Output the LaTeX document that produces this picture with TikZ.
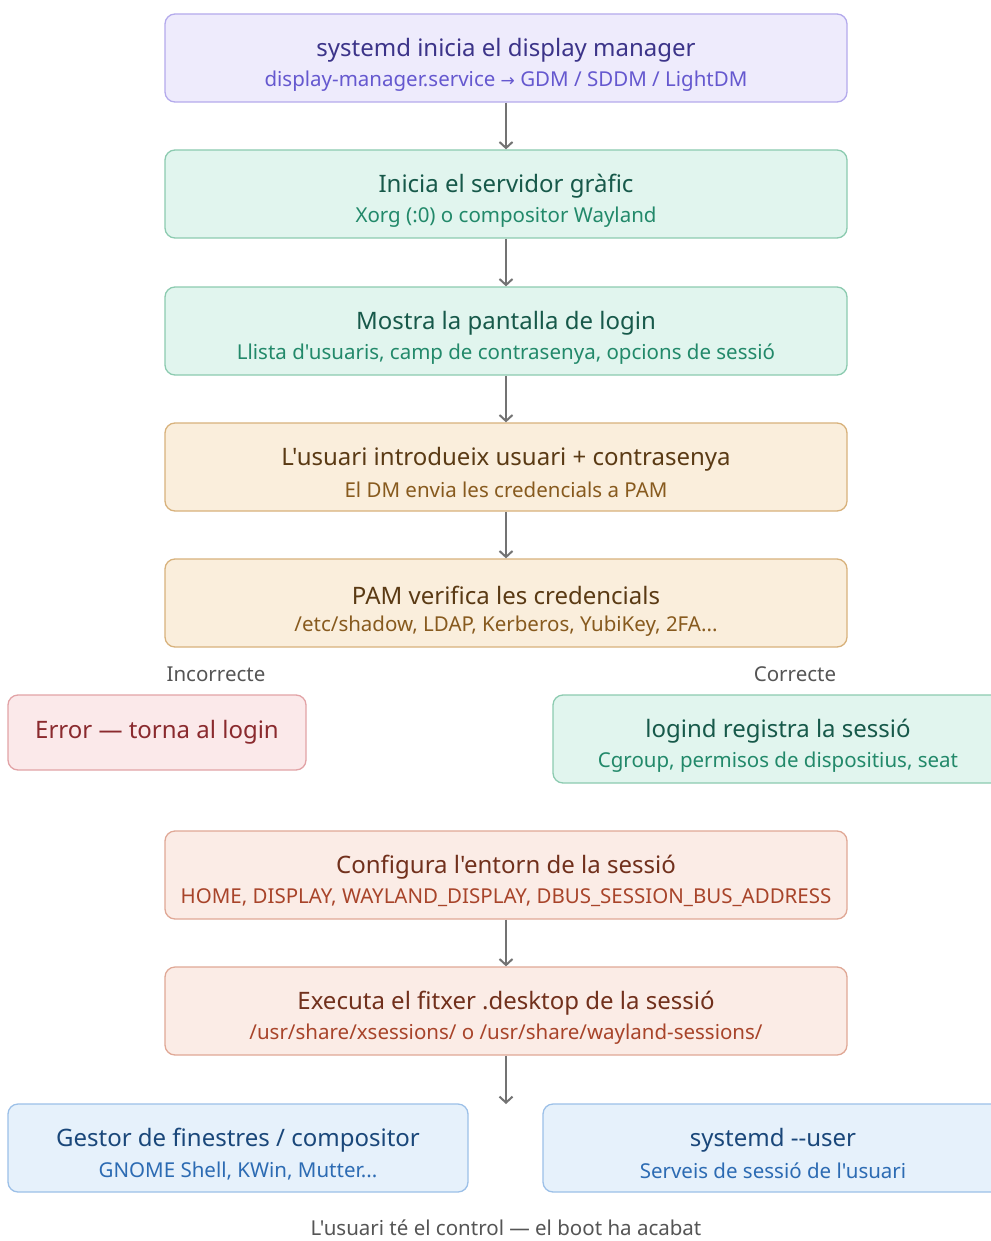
\documentclass[tikz,border=0pt]{standalone}
\usepackage{fontspec}
\setmainfont{Noto Sans}[Ligatures=TeXOff]
\newfontfamily\symfont{DejaVu Sans}
\usetikzlibrary{arrows.meta}

% palette
\definecolor{violetFill}{HTML}{EEEBFC}\definecolor{violetLine}{HTML}{B4AAEC}
\definecolor{violetHead}{HTML}{3C3489}\definecolor{violetSub}{HTML}{6558CF}
\definecolor{greenFill}{HTML}{E1F5EE}\definecolor{greenLine}{HTML}{8CCBB0}
\definecolor{greenHead}{HTML}{17594A}\definecolor{greenSub}{HTML}{22896A}
\definecolor{amberFill}{HTML}{FAEEDC}\definecolor{amberLine}{HTML}{D8B27C}
\definecolor{amberHead}{HTML}{5A3A14}\definecolor{amberSub}{HTML}{875A1E}
\definecolor{roseFill}{HTML}{FBE9EA}\definecolor{roseLine}{HTML}{E2A3A6}
\definecolor{roseHead}{HTML}{8A2A2E}
\definecolor{coralFill}{HTML}{FBECE6}\definecolor{coralLine}{HTML}{E0A896}
\definecolor{coralHead}{HTML}{71301C}\definecolor{coralSub}{HTML}{A8442A}
\definecolor{blueFill}{HTML}{E6F1FB}\definecolor{blueLine}{HTML}{9CC0E8}
\definecolor{blueHead}{HTML}{1A477A}\definecolor{blueSub}{HTML}{2C6BB3}
\definecolor{arrowGray}{HTML}{737373}
\definecolor{noteGray}{HTML}{555555}

\tikzset{
  x=1pt, y=-1pt,
  stage/.style={draw, rounded corners=10pt, line width=1.3pt,
    minimum height=88pt, inner sep=0pt},
  wide/.style={stage, minimum width=682pt},
  violet/.style={fill=violetFill, draw=violetLine},
  green/.style={fill=greenFill, draw=greenLine},
  amber/.style={fill=amberFill, draw=amberLine},
  rose/.style={fill=roseFill, draw=roseLine},
  coral/.style={fill=coralFill, draw=coralLine},
  blue/.style={fill=blueFill, draw=blueLine},
  headtext/.style={font=\fontsize{24}{28}\selectfont, inner sep=0pt, anchor=center},
  subtext/.style={font=\fontsize{20.5}{24}\selectfont, inner sep=0pt, anchor=center},
  note/.style={font=\fontsize{20.5}{24}\selectfont, text=noteGray, inner sep=0pt},
  flow/.style={draw=arrowGray, line width=2pt,
    -{Straight Barb[length=6pt,width=13pt,line width=2pt]}},
}

\begin{document}
\begin{tikzpicture}
\useasboundingbox (0,0) rectangle (990,1241);
\fill[white] (0,0) rectangle (990,1241);

% main column
\node[wide, violet] (dm) at (506,58) {};
\node[headtext, text=violetHead] (dmT) at ([yshift=8pt]dm.center) {systemd inicia el display manager};
\node[subtext, text=violetSub] (dmS) at ([yshift=-23pt]dm.center) {display-manager.service {\symfont\fontsize{17}{20}\selectfont →} GDM / SDDM / LightDM};

\node[wide, green] (xs) at (506,194) {};
\node[headtext, text=greenHead] (xsT) at ([yshift=8pt]xs.center) {Inicia el servidor gràfic};
\node[subtext, text=greenSub] (xsS) at ([yshift=-23pt]xs.center) {Xorg (:0) o compositor Wayland};

\node[wide, green] (lg) at (506,331) {};
\node[headtext, text=greenHead] (lgT) at ([yshift=8pt]lg.center) {Mostra la pantalla de login};
\node[subtext, text=greenSub] (lgS) at ([yshift=-23pt]lg.center) {Llista d'usuaris, camp de contrasenya, opcions de sessió};

\node[wide, amber] (in) at (506,467) {};
\node[headtext, text=amberHead] (inT) at ([yshift=8pt]in.center) {L'usuari introdueix usuari + contrasenya};
\node[subtext, text=amberSub] (inS) at ([yshift=-23pt]in.center) {El DM envia les credencials a PAM};

\node[wide, amber] (pam) at (506,603) {};
\node[headtext, text=amberHead] (pamT) at ([yshift=8pt]pam.center) {PAM verifica les credencials};
\node[subtext, text=amberSub] (pamS) at ([yshift=-23pt]pam.center) {/etc/shadow, LDAP, Kerberos, YubiKey, 2FA...};

% branch labels
\node[note] (bad) at (216,674) {Incorrecte};
\node[note] (good) at (795,674) {Correcte};

% outcomes of the check
\node[stage, rose, minimum width=298pt, minimum height=75pt] (err) at (157,732.5) {};
\node[headtext, text=roseHead] (errT) at (err.center) {Error — torna al login};

\node[stage, green, minimum width=450pt] (ld) at (778,739) {};
\node[headtext, text=greenHead] (ldT) at ([yshift=8pt]ld.center) {logind registra la sessió};
\node[subtext, text=greenSub] (ldS) at ([yshift=-23pt]ld.center) {Cgroup, permisos de dispositius, seat};

\node[wide, coral] (env) at (506,875) {};
\node[headtext, text=coralHead] (envT) at ([yshift=8pt]env.center) {Configura l'entorn de la sessió};
\node[subtext, text=coralSub] (envS) at ([yshift=-23pt]env.center) {HOME, DISPLAY, WAYLAND\_DISPLAY, DBUS\_SESSION\_BUS\_ADDRESS};

\node[wide, coral] (desk) at (506,1011) {};
\node[headtext, text=coralHead] (deskT) at ([yshift=8pt]desk.center) {Executa el fitxer .desktop de la sessió};
\node[subtext, text=coralSub] (deskS) at ([yshift=-23pt]desk.center) {/usr/share/xsessions/ o /usr/share/wayland-sessions/};

% final pair
\node[stage, blue, minimum width=460pt] (wm) at (238,1148) {};
\node[headtext, text=blueHead] (wmT) at ([yshift=8pt]wm.center) {Gestor de finestres / compositor};
\node[subtext, text=blueSub] (wmS) at ([yshift=-23pt]wm.center) {GNOME Shell, KWin, Mutter...};

\node[stage, blue, minimum width=460pt] (su) at (773,1148) {};
\node[headtext, text=blueHead] (suT) at ([yshift=8pt]su.center) {systemd --user};
\node[subtext, text=blueSub] (suS) at ([yshift=-23pt]su.center) {Serveis de sessió de l'usuari};

\node[note] (end) at (506,1228) {L'usuari té el control — el boot ha acabat};

% connectors
\coordinate (fork) at (506,1104);
\draw[flow] (dm) -- (xs);
\draw[flow] (xs) -- (lg);
\draw[flow] (lg) -- (in);
\draw[flow] (in) -- (pam);
\draw[flow] (env) -- (desk);
\draw[flow] (desk) -- (fork);
\end{tikzpicture}
\end{document}
